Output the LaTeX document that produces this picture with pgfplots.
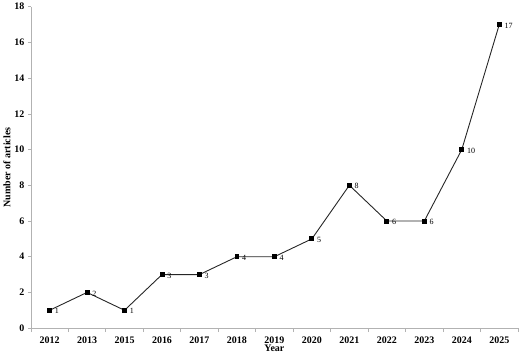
\documentclass[border=0pt]{standalone}
\usepackage{pgfplots}
\pgfplotsset{compat=1.18}
\usepackage{fontspec}
\setmainfont{Liberation Serif}
\begin{document}
\begin{tikzpicture}
\begin{axis}[
  scale only axis,
  width=488pt, height=322pt,
  at={(0,0)}, anchor=south west,
  xmin=-0.5, xmax=12.5,
  ymin=0, ymax=18,
  ytick={0,2,...,18},
  xtick={0,...,12},
  xticklabels={2012,2013,2015,2016,2017,2018,2019,2020,2021,2022,2023,2024,2025},
  minor xtick={-0.5,0.5,...,12.5},
  axis x line*=bottom,
  axis y line*=left,
  axis line style={gray!60, line width=0.6pt, -},
  tick style={gray!60, line width=0.6pt},
  tick align=outside,
  major x tick style={draw=none},
  minor tick length=4pt,
  major tick length=3pt,
  /pgf/number format/assume math mode=true,
  ticklabel style={font=\bfseries\normalsize},
  xticklabel style={yshift=-2pt},
  xlabel={Year},
  ylabel={Number of articles},
  label style={font=\bfseries\normalsize},
  xlabel style={yshift=5pt},
  ylabel style={yshift=-3pt},
  nodes near coords,
  every node near coord/.style={font=\footnotesize, anchor=west, xshift=1.5pt, yshift=-1pt, black},
  point meta=explicit symbolic,
]
\addplot[black!85, line width=0.9pt, mark=square*, mark size=2pt, mark options={solid, black}]
 table[meta=lab] {
x y lab
0 1 1
1 2 2
2 1 1
3 3 3
4 3 3
5 4 4
6 4 4
7 5 5
8 8 8
9 6 6
10 6 6
11 10 10
12 17 17
};
\end{axis}
\path[use as bounding box] (-30pt,-30pt) rectangle (490pt,327pt);
\end{tikzpicture}
\end{document}
